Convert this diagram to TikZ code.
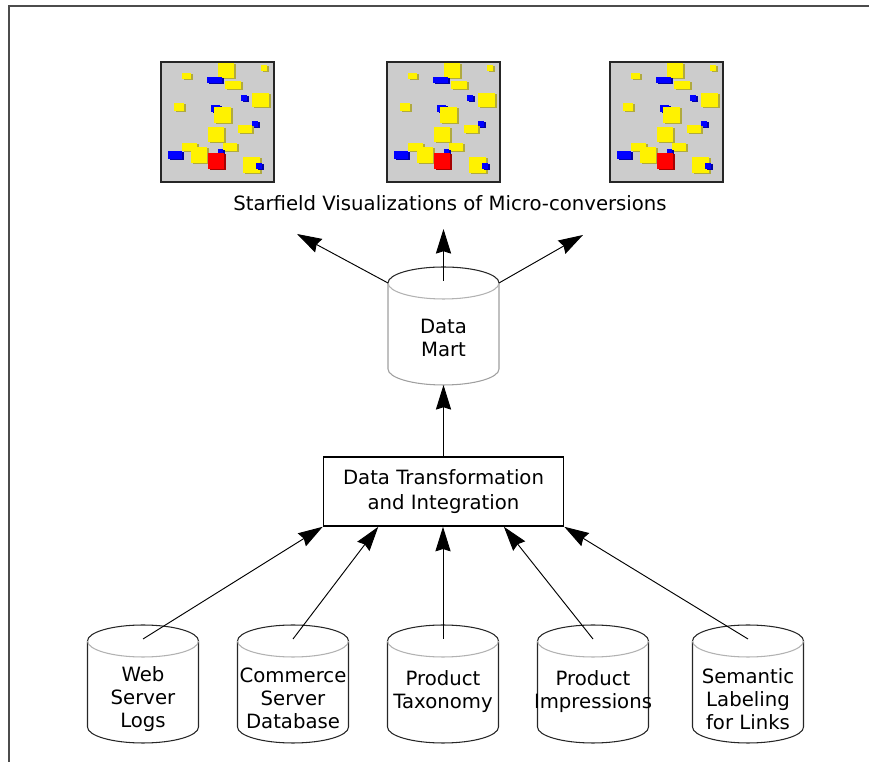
\documentclass[tikz,border=0pt]{standalone}
\usepackage{fontspec}
\setmainfont{DejaVu Sans}
\usetikzlibrary{arrows.meta,calc}

\definecolor{sfgray}{RGB}{204,204,204}
\tikzset{
  every node/.style={font=\fontsize{16.8}{19.6}\selectfont, align=center},
  drumline/.style={draw=black!85, line width=0.9pt},
  feed/.style={-{Stealth[length=21pt,width=13pt,inset=2pt]}, line width=0.8pt},
  transbox/.style={draw, line width=1.3pt, minimum width=7.2cm, minimum height=2.07cm,
    inner sep=0pt, font=\fontsize{16.8}{21.3}\selectfont},
  drum/.pic={
    \fill[white] (-55.5,0) -- (-55.5,-86) arc[start angle=180,end angle=360,x radius=55.5,y radius=16]
      -- (55.5,0) arc[start angle=0,end angle=180,x radius=55.5,y radius=16] -- cycle;
    \draw[drumline] (-55.5,0) -- (-55.5,-86) arc[start angle=180,end angle=360,x radius=55.5,y radius=16] -- (55.5,0);
    \draw[black!85, line width=0.9pt] (55.5,0) arc[start angle=0,end angle=180,x radius=55.5,y radius=16];
    \draw[gray!60, line width=0.9pt] (-55.5,0) arc[start angle=180,end angle=360,x radius=55.5,y radius=16];
    \coordinate (-top) at (0,2);
    \coordinate (-left) at (-55.5,0);
    \coordinate (-right) at (55.5,0);
    \coordinate (-base) at (0,-102);
  },
  starfield/.pic={
    \filldraw[fill=sfgray, draw=black!85, line width=1.6pt] (0,0) rectangle (113,-120);
    % stars: x1/y1/x2/y2/colour, measured from the top left corner
    \foreach \a/\b/\c/\d/\col in {57/1/73/16/yellow, 100/3/106/9/yellow, 21/11/30/17/yellow,
        46/15/61/21/blue, 64/19/80/27/yellow, 80/33/86/39/blue, 91/31/108/45/yellow,
        13/41/23/49/yellow, 50/43/59/50/blue, 53/45/70/61/yellow, 91/59/97/65/blue,
        77/63/91/71/yellow, 47/65/63/80/yellow, 21/81/36/89/yellow, 62/81/76/89/yellow,
        7/89/21/97/blue, 30/85/46/101/yellow, 57/87/62/92/blue, 47/91/63/107/red,
        82/95/99/111/yellow, 95/101/101/107/blue}{
      \fill[\col!65!black] (\a+1.5,-\b-1.5) rectangle (\c+1.5,-\d-1.5);
      \fill[\col] (\a,-\b) rectangle (\c,-\d);
    }
  },
}

\begin{document}
\begin{tikzpicture}[x=0.03cm, y=0.03cm]
\useasboundingbox (0,0) rectangle (869,762);
\draw[line width=2.5pt, black!70] (9,0) -- (9,756) -- (869,756);

% starfields
\pic at (161,700) {starfield};
\pic at (387,700) {starfield};
\pic at (610,700) {starfield};
\node (sftitle) at (450,559) {Starfield Visualizations of Micro-conversions};

% data mart
\pic[drumline/.style={draw=gray!75, line width=0.9pt}] (mart) at (443.5,479) {drum};
\node (marttext) at (443.5,424) {Data\\Mart};
\coordinate (outL) at (297,528);
\coordinate (outC) at (443.5,533);
\coordinate (outR) at (583,527);
\draw[feed] (mart-left) -- (outL);
\draw[feed] (mart-top) -- (outC);
\draw[feed] (mart-right) -- (outR);

% transformation
\node[transbox] (trans) at (443.5,270.5) {Data Transformation\\and Integration};
\draw[feed] (trans.north) -- (mart-base);

% sources
\pic (web) at (143,121) {drum};
\pic (comm) at (293,121) {drum};
\pic (tax) at (443,121) {drum};
\pic (impr) at (593,121) {drum};
\pic (sem) at (748,121) {drum};
\node (webtext) at (143,63) {Web\\Server\\Logs};
\node (commtext) at (293,64) {Commerce\\Server\\Database};
\node (taxtext) at (443,70.5) {Product\\Taxonomy};
\node (imprtext) at (593,70.5) {Product\\Impressions};
\node (semtext) at (748,63) {Semantic\\Labeling\\for Links};

\draw[feed] (web-top) -- (trans.south west);
\draw[feed] (comm-top) -- ($(trans.south west)!0.23!(trans.south east)$);
\draw[feed] (tax-top) -- (trans.south -| tax-top);
\draw[feed] (impr-top) -- ($(trans.south west)!0.75!(trans.south east)$);
\draw[feed] (sem-top) -- (trans.south east);
\end{tikzpicture}
\end{document}
